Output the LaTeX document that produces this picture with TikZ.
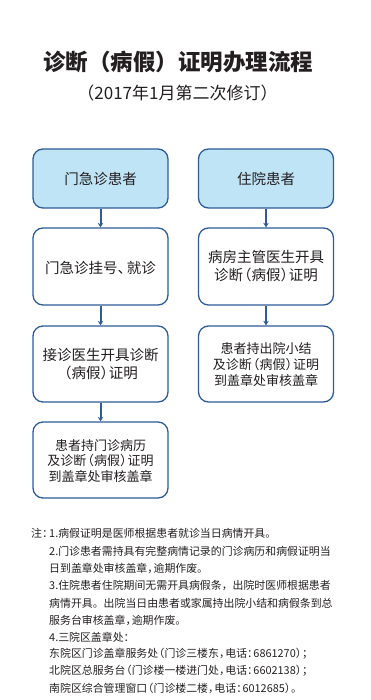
\documentclass[tikz,border=0pt]{standalone}
\usepackage{fontspec}
\setmainfont{Noto Sans CJK SC}
\usetikzlibrary{arrows.meta}
\definecolor{boxline}{HTML}{2D5C98}
\definecolor{boxfill}{HTML}{BEE4F5}
\definecolor{txt}{HTML}{231F20}
\newcommand{\nlp}{\hspace{-0.42em}（}
\newcommand{\nrp}{）\hspace{-0.42em}}
\newcommand{\ncm}{，\hspace{-0.42em}}
\newcommand{\ncol}{：\hspace{-0.42em}}
\newcommand{\ndun}{、\hspace{-0.35em}}
\tikzset{
  flowbox/.style={draw=boxline, line width=1.3pt, rounded corners=10pt, minimum width=135pt, inner sep=0pt, text=txt},
  headbox/.style={flowbox, fill=boxfill, minimum height=59pt},
  bodybox/.style={flowbox, fill=white, minimum height=76pt},
  flowarrow/.style={draw=boxline, line width=2pt, -{Stealth[length=4.5pt,width=5.5pt]}},
  boxtext/.style={align=center, text=txt, inner sep=0pt},
  notetext/.style={anchor=west, inner sep=0pt, text=txt, font=\fontsize{10.9}{13}\selectfont}
}
\begin{document}
\begin{tikzpicture}[x=1pt,y=-1pt]
\useasboundingbox (0,0) rectangle (370,700);
% titles
\node[text=txt, inner sep=0pt, font=\fontsize{22.5}{26}\selectfont\bfseries] (title) at (178,62) {诊断（病假）证明办理流程};
\node[text=txt, inner sep=0pt, font=\fontsize{17}{20}\selectfont] (subtitle) at (177.5,93) {（2017年1月第二次修订）};
% boxes
\node[headbox] (l1) at (100.5,178.5) {};
\node[headbox] (r1) at (266,178.5) {};
\node[bodybox, minimum height=77pt] (l2) at (100.5,266.5) {};
\node[bodybox, minimum height=77pt] (r2) at (266,266.5) {};
\node[bodybox] (l3) at (100.5,364) {};
\node[bodybox] (r3) at (266,364) {};
\node[bodybox] (l4) at (100.5,460) {};
% box texts
\node[boxtext, font=\fontsize{14.5}{18}\selectfont] (tl1) at (l1.center) {门急诊患者};
\node[boxtext, font=\fontsize{14.5}{18}\selectfont] (tr1) at (r1.center) {住院患者};
\node[boxtext, font=\fontsize{14.5}{18}\selectfont] (tl2) at ([yshift=-1.5pt]l2.center) {门急诊挂号\ndun 就诊};
\node[boxtext, font=\fontsize{14.5}{18.5}\selectfont] (tr2) at ([yshift=0.5pt]r2.center) {病房主管医生开具\\诊断\nlp 病假\nrp 证明};
\node[boxtext, font=\fontsize{14.5}{18.5}\selectfont] (tl3) at (l3.center) {接诊医生开具诊断\\\nlp 病假\nrp 证明};
\node[boxtext, font=\fontsize{13}{16}\selectfont] (tr3) at ([yshift=-1pt]r3.center) {患者持出院小结\\及诊断\nlp 病假\nrp 证明\\到盖章处审核盖章};
\node[boxtext, font=\fontsize{13}{15.7}\selectfont] (tl4) at ([yshift=-1pt]l4.center) {患者持门诊病历\\及诊断\nlp 病假\nrp 证明\\到盖章处审核盖章};
% arrows
\draw[flowarrow] (l1.south) -- (l2.north);
\draw[flowarrow] (r1.south) -- (r2.north);
\draw[flowarrow] (l2.south) -- (l3.north);
\draw[flowarrow] (r2.south) -- (r3.north);
\draw[flowarrow] (l3.south) -- (l4.north);
% notes
\node[notetext] (n0) at (31,533) {注\ncol};
\node[notetext] (n1) at (49,533) {1.病假证明是医师根据患者就诊当日病情开具。};
\node[notetext] (n2) at (49,551) {2.门诊患者需持具有完整病情记录的门诊病历和病假证明当};
\node[notetext] (n3) at (49,568) {日到盖章处审核盖章\ncm 逾期作废。};
\node[notetext] (n4) at (49,585) {3.住院患者住院期间无需开具病假条，出院时医师根据患者};
\node[notetext] (n5) at (49,603) {病情开具。出院当日由患者或家属持出院小结和病假条到总};
\node[notetext] (n6) at (49,620) {服务台审核盖章\ncm 逾期作废。};
\node[notetext] (n7) at (49,637) {4.三院区盖章处\ncol};
\node[notetext] (n8) at (49,654) {东院区门诊盖章服务处\nlp 门诊三楼东\ncm 电话\ncol 6861270\nrp ；};
\node[notetext] (n9) at (49,671) {北院区总服务台\nlp 门诊楼一楼进门处\ncm 电话\ncol 6602138\nrp ；};
\node[notetext] (n10) at (49,688) {南院区综合管理窗口\nlp 门诊楼二楼\ncm 电话\ncol 6012685\nrp 。};
\end{tikzpicture}
\end{document}
